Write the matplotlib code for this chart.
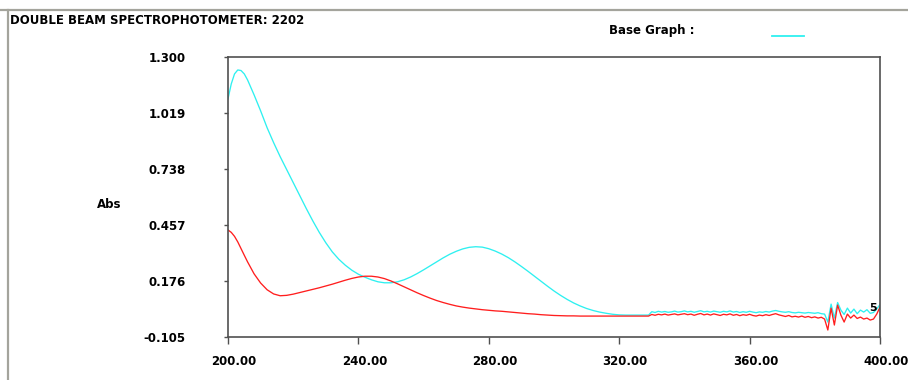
import numpy as np
import matplotlib
matplotlib.use("Agg")
import matplotlib.pyplot as plt
from matplotlib.lines import Line2D
import matplotlib.transforms as mtransforms

plt.rcParams['font.family'] = ['DejaVu Sans']

# ---- data -------------------------------------------------------------
# smooth region (nm)
wl_smooth = [200, 201, 202, 203, 204, 205, 206, 208, 210, 212, 214, 216, 218,
             220, 222, 224, 226, 228, 230, 232, 234, 236, 238, 240, 242, 244,
             246, 248, 250, 252, 254, 256, 258, 260, 262, 264, 266, 268, 270,
             272, 274, 276, 278, 280, 282, 284, 286, 288, 290, 292, 294, 296,
             298, 300, 302, 304, 306, 308, 310, 312, 314, 316, 318, 320, 322,
             324, 326, 328, 329]

base_smooth = [1.090, 1.165, 1.215, 1.235, 1.232, 1.215, 1.185, 1.110, 1.030,
               0.945, 0.870, 0.800, 0.735, 0.670, 0.605, 0.540, 0.478, 0.420,
               0.368, 0.322, 0.285, 0.255, 0.230, 0.210, 0.195, 0.182, 0.172,
               0.167, 0.167, 0.172, 0.182, 0.196, 0.213, 0.232, 0.252, 0.272,
               0.292, 0.310, 0.325, 0.337, 0.345, 0.348, 0.346, 0.338, 0.326,
               0.311, 0.293, 0.272, 0.249, 0.225, 0.200, 0.175, 0.150, 0.126,
               0.104, 0.084, 0.066, 0.051, 0.038, 0.028, 0.020, 0.014, 0.009,
               0.006, 0.005, 0.005, 0.005, 0.005, 0.005]

sample_smooth = [0.432, 0.420, 0.400, 0.372, 0.338, 0.305, 0.272, 0.212, 0.166,
                 0.132, 0.111, 0.102, 0.104, 0.110, 0.118, 0.126, 0.134, 0.142,
                 0.151, 0.160, 0.170, 0.180, 0.189, 0.196, 0.200, 0.200, 0.196,
                 0.188, 0.176, 0.162, 0.147, 0.132, 0.117, 0.103, 0.090, 0.078,
                 0.068, 0.059, 0.051, 0.045, 0.040, 0.036, 0.032, 0.029, 0.026,
                 0.024, 0.021, 0.018, 0.015, 0.012, 0.010, 0.007, 0.005, 0.003,
                 0.002, 0.001, 0.001, 0.000, 0.000, 0.000, 0.000, 0.000, 0.000,
                 0.000, 0.000, 0.000, 0.000, 0.000, 0.000]

# noisy region (nm), 1 nm steps
wl_noisy = list(range(330, 401))

base_noisy = [0.022, 0.018, 0.024, 0.020, 0.023, 0.019, 0.021, 0.025, 0.020,
              0.022, 0.026, 0.021, 0.024, 0.019, 0.023, 0.027, 0.021, 0.024,
              0.020, 0.025, 0.022, 0.019, 0.024, 0.021, 0.026, 0.020, 0.023,
              0.018, 0.022, 0.019, 0.024, 0.020, 0.017, 0.021, 0.019, 0.023,
              0.020, 0.025, 0.028, 0.024, 0.021, 0.019, 0.022, 0.018, 0.016,
              0.019, 0.017, 0.015, 0.018, 0.016, 0.014, 0.017, 0.012, 0.010,
              -0.030, 0.060, -0.010, 0.068, 0.030, 0.008, 0.040, 0.015, 0.035,
              0.012, 0.030, 0.020, 0.032, 0.014, 0.018, 0.035, 0.058]

sample_noisy = [0.008, 0.004, 0.009, 0.006, 0.010, 0.005, 0.008, 0.011, 0.006,
                0.009, 0.012, 0.007, 0.010, 0.004, 0.009, 0.013, 0.006, 0.010,
                0.005, 0.011, 0.007, 0.003, 0.009, 0.006, 0.011, 0.004, 0.008,
                0.002, 0.007, 0.004, 0.009, 0.003, 0.000, 0.005, 0.002, 0.007,
                0.003, 0.008, 0.012, 0.006, 0.002, -0.002, 0.003, -0.004, -0.001,
                -0.005, 0.000, -0.006, -0.002, -0.008, -0.004, -0.010, -0.006,
                -0.015, -0.070, 0.040, -0.045, 0.055, 0.005, -0.030, 0.010,
                -0.010, 0.005, -0.012, -0.005, -0.015, -0.010, -0.020, -0.015,
                0.010, 0.045]

y_ticks = [-0.105, 0.176, 0.457, 0.738, 1.019, 1.300]
x_ticks = [200, 240, 280, 320, 360, 400]

wl = np.array(wl_smooth + wl_noisy, dtype=float)
base = np.array(base_smooth + base_noisy)
sample = np.array(sample_smooth + sample_noisy)

# ---- figure -----------------------------------------------------------
W, H = 908, 380
fig = plt.figure(figsize=(W / 100, H / 100), dpi=100)
fig.patch.set_facecolor('white')


def fx(px):
    return px / W


def fy(py):
    return 1 - py / H


CYAN = '#2ef0f0'
RED = '#ff1e1e'
FRAME = '#505050'
FS = 8.5

# window borders
fig.add_artist(Line2D([0, 1], [fy(10), fy(10)], transform=fig.transFigure,
                      color='#a4a49c', lw=1.6))
fig.add_artist(Line2D([fx(8), fx(8)], [fy(10), 0], transform=fig.transFigure,
                      color='#a4a49c', lw=1.6))

ax = fig.add_axes([fx(228), fy(337), (880 - 228) / W, (337 - 57) / H])
ax.plot(wl, base, color=CYAN, lw=0.95)
ax.plot(wl, sample, color=RED, lw=0.95)

ax.set_xlim(200, 400)
ax.set_ylim(-0.105, 1.300)

ax.set_yticks(y_ticks)
ax.set_yticklabels([f"{v:.3f}" for v in y_ticks])
ax.set_xticks(x_ticks)
ax.set_xticklabels([f"{v:.2f}" for v in x_ticks])

for s in ax.spines.values():
    s.set_color(FRAME)
    s.set_linewidth(1.2)

ax.tick_params(axis='y', direction='out', length=3, width=1, color=FRAME,
               pad=27.5, labelsize=FS)
ax.tick_params(axis='x', direction='out', length=5, width=1, color=FRAME,
               pad=8, labelsize=FS)
for lab in ax.get_xticklabels() + ax.get_yticklabels():
    lab.set_fontweight('bold')
shift = mtransforms.ScaledTranslation(6 / 100, 0, fig.dpi_scale_trans)
for lab in ax.get_xticklabels():
    lab.set_transform(lab.get_transform() + shift)

# texts
fig.text(fx(10), fy(21), "DOUBLE BEAM SPECTROPHOTOMETER: 2202", ha='left',
         va='center', fontsize=FS, fontweight='bold')
fig.text(fx(609), fy(30.5), "Base Graph :", ha='left', va='center',
         fontsize=FS, fontweight='bold')
fig.add_artist(Line2D([fx(772), fx(804)], [fy(35.5), fy(35.5)],
                      transform=fig.transFigure, color=CYAN, lw=1.3))
fig.text(fx(97), fy(205), "Abs", ha='left', va='center', fontsize=FS,
         fontweight='bold')
fig.text(fx(873), fy(308), "5", ha='center', va='center', fontsize=8,
         fontweight='bold')

fig.savefig("out.png", dpi=100)
